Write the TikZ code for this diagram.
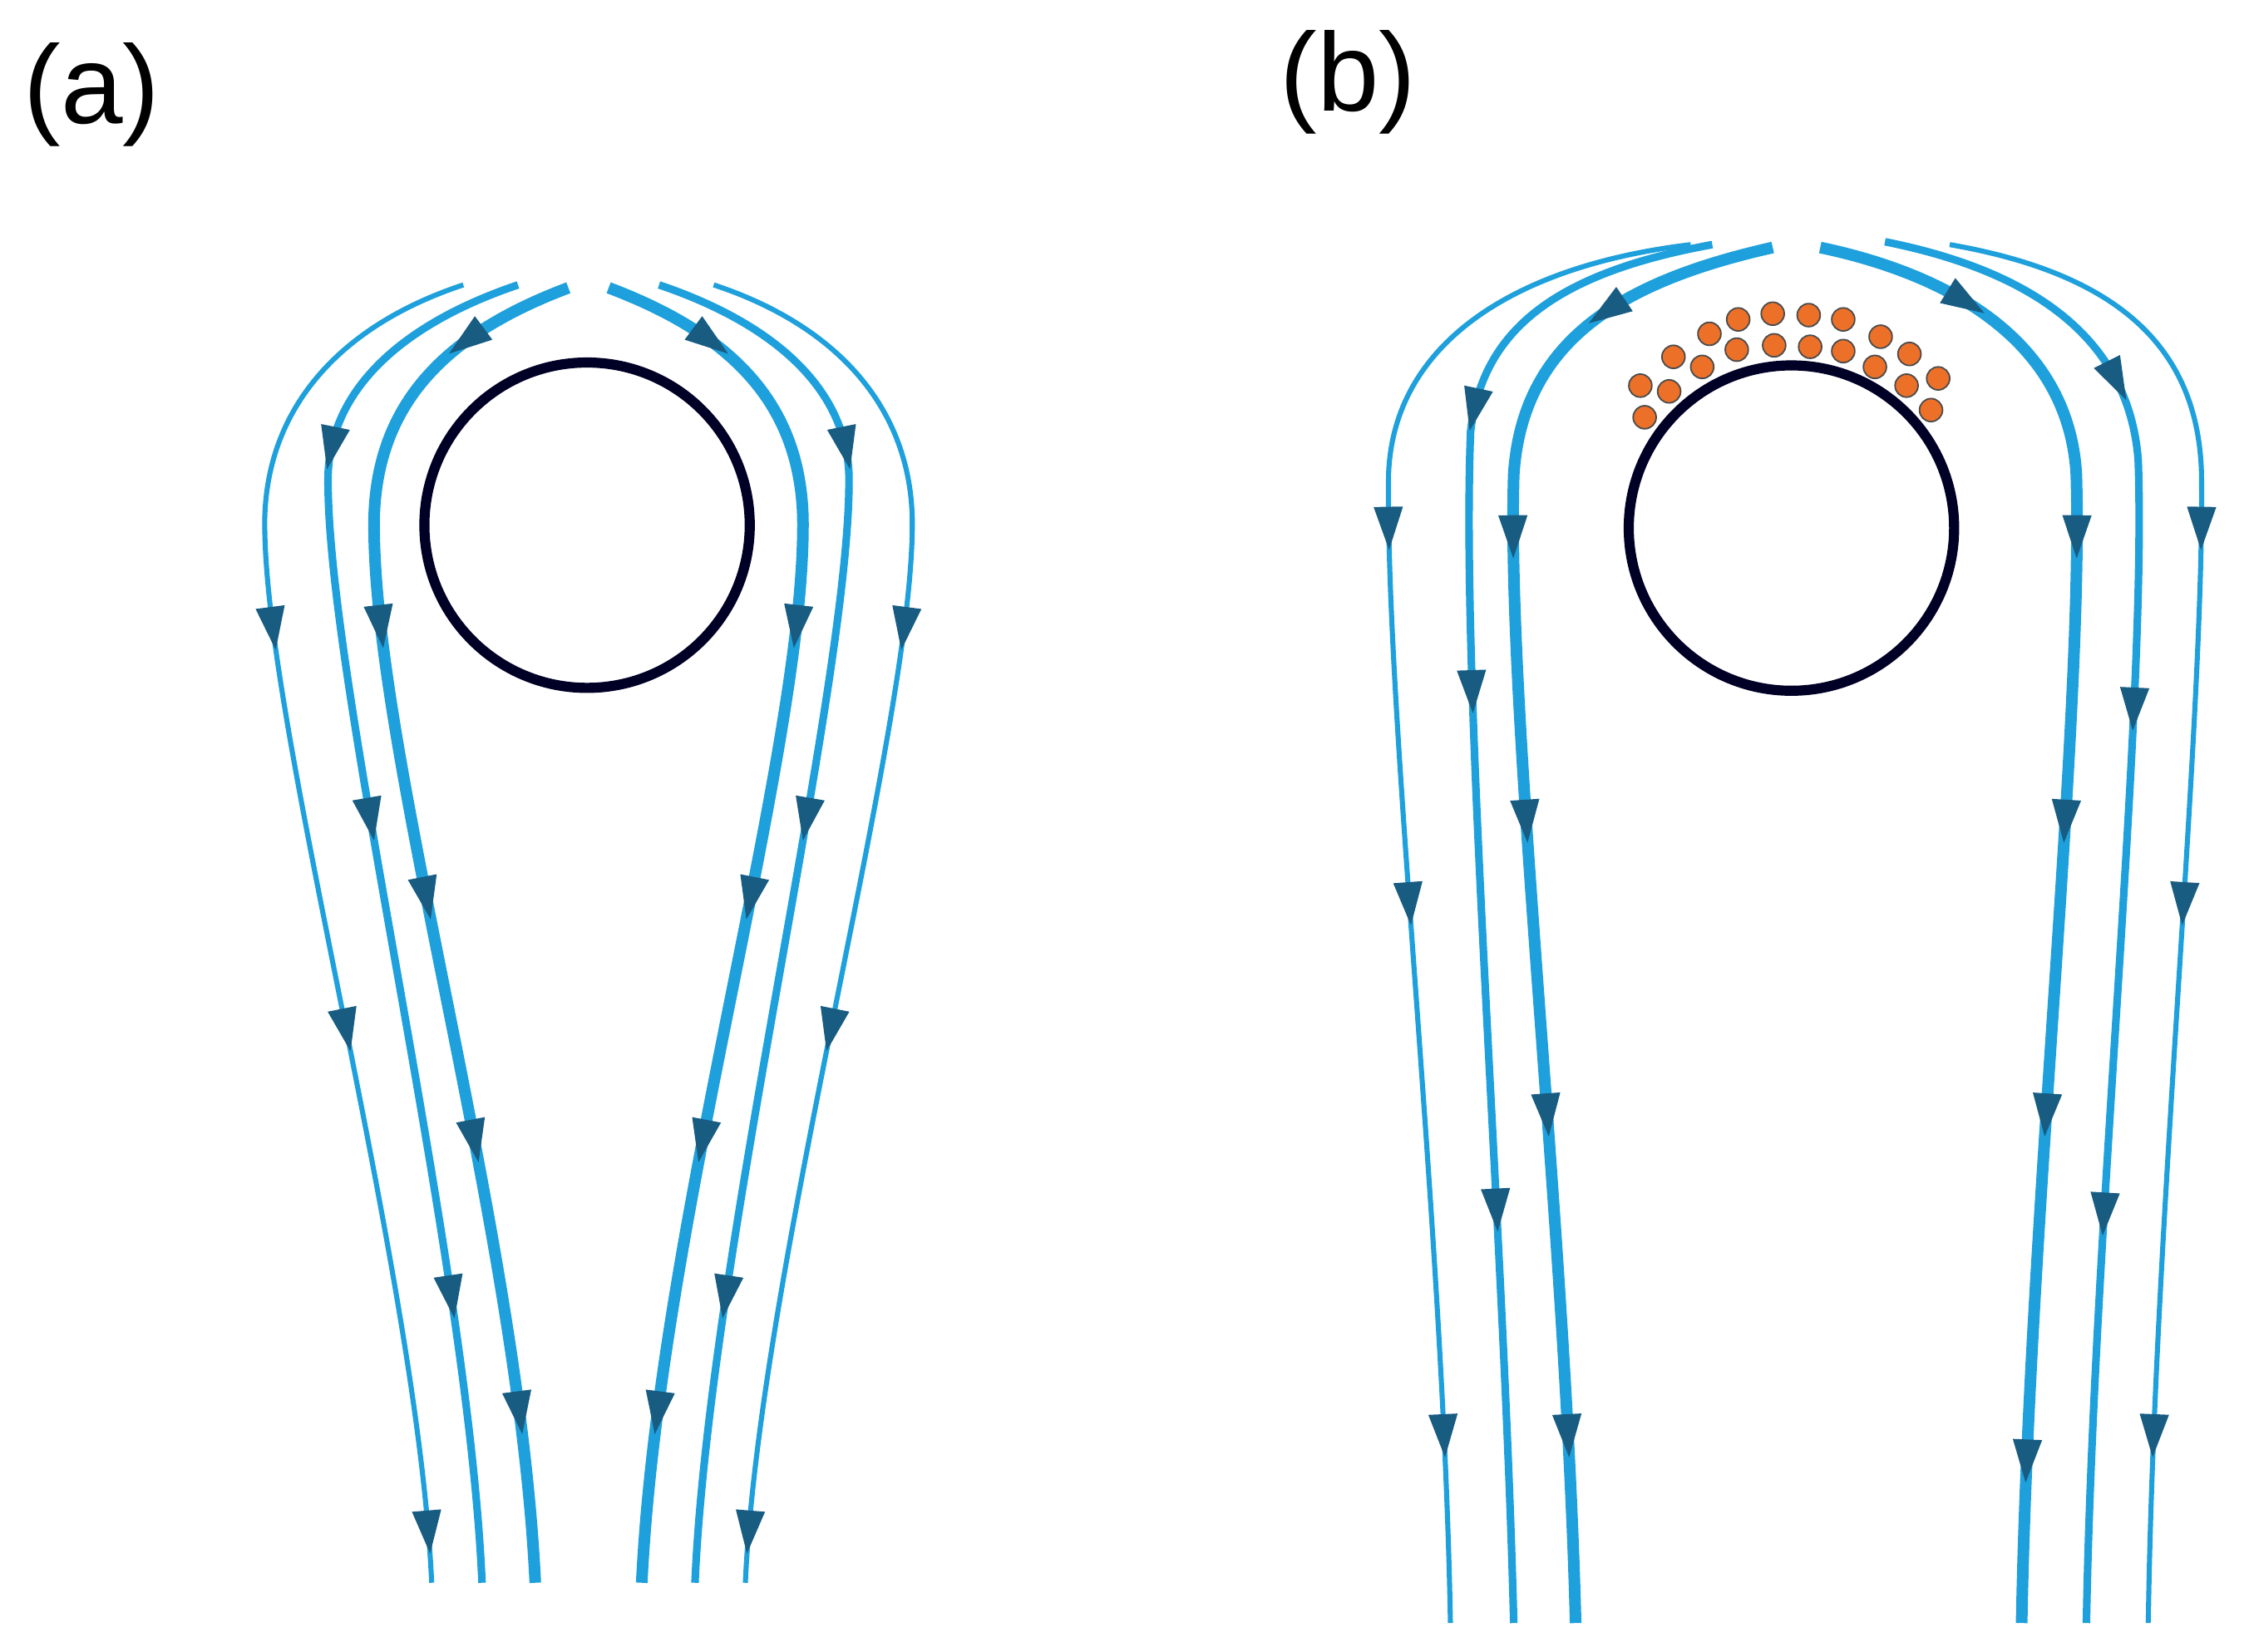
\documentclass[tikz,border=0pt]{standalone}
\usepackage{fontspec}
\setmainfont{Liberation Sans}
\usetikzlibrary{arrows.meta}
\definecolor{lb}{RGB}{30,160,220}
\definecolor{db}{RGB}{24,92,130}
\definecolor{og}{RGB}{236,112,40}
\tikzset{
  thin line/.style={draw=lb,line width=1pt},
  mid line/.style={draw=lb,line width=1.5pt},
  thick line/.style={draw=lb,line width=2.3pt},
  tipmark/.style={draw=db,line width=0.4pt,-{Triangle[length=0.3cm,width=0.2cm]}},
  dot/.style={circle,fill=og,draw=black!70,line width=0.3pt,minimum size=0.16cm,inner sep=0pt},
  lab/.style={font=\fontsize{22}{26}\selectfont}
}
% tips on bezier (x0,y0)(x1,y1)(x2,y2)(x3,y3) at parameters in #9
\newcommand{\tips}[9]{%
 \foreach \t in {#9}{%
  \pgfmathsetmacro\uu{1-\t}%
  \pgfmathsetmacro\px{\uu^3*#1+3*\uu^2*\t*#3+3*\uu*\t^2*#5+\t^3*#7}%
  \pgfmathsetmacro\py{\uu^3*#2+3*\uu^2*\t*#4+3*\uu*\t^2*#6+\t^3*#8}%
  \pgfmathsetmacro\ddx{3*\uu^2*(#3-#1)+6*\uu*\t*(#5-#3)+3*\t^2*(#7-#5)}%
  \pgfmathsetmacro\ddy{3*\uu^2*(#4-#2)+6*\uu*\t*(#6-#4)+3*\t^2*(#8-#6)}%
  \pgfmathsetmacro\nn{veclen(\ddx,\ddy)}%
  \draw[tipmark] (\px-8*\ddx/\nn,\py-8*\ddy/\nn) -- (\px+14*\ddx/\nn,\py+14*\ddy/\nn);}}
\begin{document}
\begin{tikzpicture}[x=0.01cm,y=-0.01cm]
\useasboundingbox (0,0) rectangle (1563,1148);
\node[lab] (la) at (64,66) {(a)};
\node[lab] (lb) at (937,57) {(b)};
% panel a
\node[circle,draw=black!85!blue,line width=2pt,minimum size=2.26cm] (ca) at (408,365) {};
\foreach \s/\shx in {1/0,-1/818}{
\begin{scope}[shift={(\shx,0)},xscale=\s]
\draw[thin line] (322,198) .. controls (240,225) and (186,280) .. (184,360) .. controls (182,500) and (290,880) .. (300,1100);
\tips{184}{360}{182}{500}{290}{880}{300}{1100}{0.15,0.52,0.95}
\draw[mid line] (360,198) .. controls (280,225) and (230,270) .. (228,330) .. controls (226,470) and (325,870) .. (335,1100);
\tips{360}{198}{280}{225}{230}{270}{228}{330}{0.9}
\tips{228}{330}{226}{470}{325}{870}{335}{1100}{0.37,0.75}
\draw[thick line] (395,200) .. controls (310,232) and (262,280) .. (260,360) .. controls (258,520) and (360,850) .. (372,1100);
\tips{395}{200}{310}{232}{262}{280}{260}{360}{0.33}
\tips{260}{360}{258}{520}{360}{850}{372}{1100}{0.14,0.41,0.62,0.85}
\end{scope}}
% panel b
\node[circle,draw=black!85!blue,line width=2pt,minimum size=2.26cm] (cb) at (1245,367) {};
\draw[thin line] (1175,170) .. controls (1050,185) and (968,240) .. (965,330) .. controls (963,500) and (1003,850) .. (1008,1128);
\tips{965}{330}{963}{500}{1003}{850}{1008}{1128}{0.07,0.43,0.85}
\draw[mid line] (1190,170) .. controls (1080,190) and (1030,230) .. (1022,300) .. controls (1015,480) and (1045,850) .. (1052,1128);
\tips{1190}{170}{1080}{190}{1030}{230}{1022}{300}{0.93}
\tips{1022}{300}{1015}{480}{1045}{850}{1052}{1128}{0.27,0.68}
\draw[thick line] (1232,172) .. controls (1130,195) and (1058,235) .. (1052,330) .. controls (1047,500) and (1088,850) .. (1095,1128);
\tips{1232}{172}{1130}{195}{1058}{235}{1052}{330}{0.45}
\tips{1052}{330}{1047}{500}{1088}{850}{1095}{1128}{0.08,0.36,0.6,0.85}
\draw[thick line] (1265,172) .. controls (1360,192) and (1438,240) .. (1443,330) .. controls (1448,500) and (1410,850) .. (1405,1128);
\tips{1265}{172}{1360}{192}{1438}{240}{1443}{330}{0.4}
\tips{1443}{330}{1448}{500}{1410}{850}{1405}{1128}{0.08,0.36,0.6,0.87}
\draw[mid line] (1310,168) .. controls (1420,190) and (1480,240) .. (1486,320) .. controls (1492,490) and (1455,850) .. (1450,1128);
\tips{1310}{168}{1420}{190}{1480}{240}{1486}{320}{0.75}
\tips{1486}{320}{1492}{490}{1455}{850}{1450}{1128}{0.27,0.68}
\draw[thin line] (1355,170) .. controls (1470,190) and (1528,240) .. (1530,330) .. controls (1532,500) and (1497,850) .. (1493,1128);
\tips{1530}{330}{1532}{500}{1497}{850}{1493}{1128}{0.07,0.43,0.85}
% dots
\foreach \x/\y [count=\i] in {1143/290,1160/272,1183/255,1207/243,1233/240,1258/241,1281/244,1303/255,1325/268,1342/285,
 1140/268,1163/248,1188/232,1208/222,1232/218,1257/219,1281/222,1307/234,1327/246,1347/263}
  \node[dot] (d\i) at (\x,\y) {};
\end{tikzpicture}
\end{document}
